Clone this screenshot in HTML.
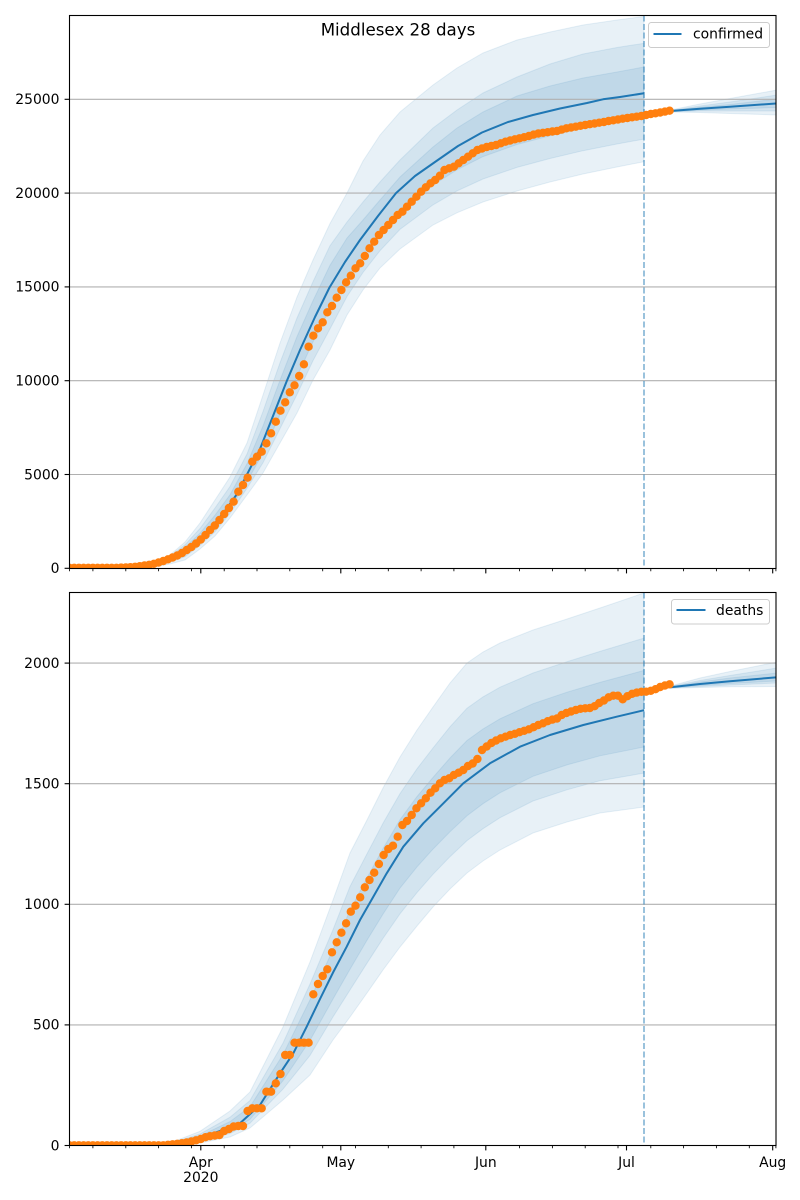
<!DOCTYPE html>
<html>
<head>
<meta charset="utf-8">
<style>
html,body{margin:0;padding:0;background:#fff;}
svg{display:block;}
text{font-family:"DejaVu Sans","Liberation Sans",sans-serif;fill:#000;}
</style>
</head>
<body>
<svg width="800" height="1200" viewBox="0 0 800 1200" xmlns="http://www.w3.org/2000/svg">
<defs>
<clipPath id="c1"><rect x="69.5" y="15.5" width="706.5" height="553"/></clipPath>
<clipPath id="c2"><rect x="69.5" y="592.5" width="706.5" height="553"/></clipPath>
</defs>
<rect width="800" height="1200" fill="#fff"/>

<!-- ================= TOP AXES ================= -->
<g clip-path="url(#c1)">
  <g fill="#1f77b4" fill-opacity="0.1" stroke="#1f77b4" stroke-opacity="0.1" stroke-width="1">
    <polygon points="69.5,568.2 150,564 170,555 185,542 200,523 215,500 230,477 247,443 263,395 280,343 297,297 313,260 330,223.5 347,193 363,161 380,135 400,112 433,85 457,68 483,53 517,40 550,32 583,25 617,20 644,16.5 644,161.7 617,167 583,174 550,182 517,191 483,202 457,212.8 433,225 400,249 380,268 363,290 347,315 330,350 313,380 297,413 280,443 263,473 247,495 230,518 215,536 200,549 185,560 170,564 150,568 69.5,568.3"/>
    <polygon points="69.5,568.2 150,564.5 170,556.2 185,544.8 200,528.5 215,508 230,486.5 247,454 263,411.5 280,362.8 297,318 313,281.7 330,245.7 347,222 363,202 380,182 400,160 433,128 457,110 483,93 517,77 550,64 583,54 617,47.5 644,43.3 644,139.1 617,144 583,150.7 550,158.5 517,167.4 483,179 457,190.9 433,204.9 400,229.4 380,250.7 363,272.5 347,296.5 330,328.9 313,360.7 297,394.5 280,428.7 263,462.8 247,488.2 230,513.4 215,531.7 200,545.5 185,556.7 170,562.2 150,567.2 69.5,568.2"/>
    <polygon points="69.5,568.2 150,565 170,557.3 185,547.3 200,533.2 215,515.2 230,494.8 247,463.8 263,426 280,380.2 297,336.6 313,300.7 330,265.3 347,238 363,220 380,200 400,177 433,147 457,128 483,112 517,96 550,86 583,78 617,72 644,67 644,117.2 617,121.8 583,128.3 550,135.8 517,144.5 483,156.6 457,169.8 433,185.1 400,210.3 380,233.8 363,255.2 347,278.6 330,308.8 313,341.9 297,376.6 280,414.6 263,452.9 247,481.7 230,508.9 215,527.6 200,542 185,553.5 170,560.4 150,566.4 69.5,568.2"/>
    <polygon points="670.5,110 700,104 730,98.5 777,90 777,115 730,113.5 700,112.5 670.5,112"/>
    <polygon points="670.5,110.5 700,106 730,102 777,95 777,111 730,111 700,111 670.5,111.7"/>
    <polygon points="670.5,110.8 700,107.3 730,104.5 777,99 777,107.5 730,109 700,110 670.5,111.3"/>
  </g>
  <!-- grid -->
  <g stroke="#b0b0b0" stroke-width="1.1">
    <line x1="69.5" x2="776" y1="474.5" y2="474.5"/>
    <line x1="69.5" x2="776" y1="380.7" y2="380.7"/>
    <line x1="69.5" x2="776" y1="286.9" y2="286.9"/>
    <line x1="69.5" x2="776" y1="193.1" y2="193.1"/>
    <line x1="69.5" x2="776" y1="99.3" y2="99.3"/>
  </g>
  <!-- median lines -->
  <polyline fill="none" stroke="#1f77b4" stroke-width="2" stroke-linejoin="round" points="69.5,568.2 130,567.6 150,565.5 165,561 180,553.5 195,543 210,529 225,511 237,494 247,474.5 260,449 273,416 286.5,381.7 300,350 315,317 329.5,287.5 345,262 360,240 378,216 396,193.1 415,176 435,162 458,146 482,132.5 508,122 533,115 560,108.5 587,103 603,99.3 620,97 644,93.3"/>
  <polyline fill="none" stroke="#1f77b4" stroke-width="2" points="670.5,111 700,108.8 730,106.8 777,103.4"/>
  <!-- dashed vline -->
  <line x1="644" x2="644" y1="15.5" y2="568.5" stroke="#1f77b4" stroke-opacity="0.5" stroke-width="1.8" stroke-dasharray="6,2.5"/>
  <!-- data dots -->
  <path fill="none" stroke="#ff7f0e" stroke-width="8.4" stroke-linecap="round" d="M69.5 567.8h0.01M74.2 567.8h0.01M78.9 567.8h0.01M83.6 567.8h0.01M88.3 567.8h0.01M92.9 567.8h0.01M97.6 567.8h0.01M102.3 567.8h0.01M107 567.8h0.01M111.7 567.8h0.01M116.4 567.8h0.01M121.1 567.6h0.01M125.8 567.4h0.01M130.4 567.2h0.01M135.1 566.8h0.01M139.8 566.2h0.01M144.5 565.5h0.01M149.2 564.8h0.01M153.9 563.8h0.01M158.6 562.5h0.01M163.3 561h0.01M168 559.3h0.01M172.6 557.5h0.01M177.3 555.5h0.01M182 553h0.01M186.7 550h0.01M191.4 547h0.01M196.1 543.5h0.01M200.8 539.5h0.01M205.5 535h0.01M210.1 530h0.01M214.8 525.5h0.01M219.5 520h0.01M224.2 514h0.01M228.9 508h0.01M233.6 501.7h0.01M238.3 491.7h0.01M243 485h0.01M247.6 477.7h0.01M252.3 461.7h0.01M257 456.7h0.01M261.7 451.7h0.01M266.4 443.3h0.01M271.1 433.3h0.01M275.8 421.7h0.01M280.5 410.7h0.01M285.2 402.3h0.01M289.8 392.3h0.01M294.5 385.3h0.01M299.2 376h0.01M303.9 364.3h0.01M308.6 346.7h0.01M313.3 335.7h0.01M318 328.3h0.01M322.7 322.3h0.01M327.3 312.3h0.01M332 306h0.01M336.7 297.7h0.01M341.4 290h0.01M346.1 282.3h0.01M350.8 275.7h0.01M355.5 268.3h0.01M360.2 263.3h0.01M364.8 256h0.01M369.5 248.3h0.01M374.2 241.7h0.01M378.9 235h0.01M383.6 230h0.01M388.3 225h0.01M393 220h0.01M397.7 215h0.01M402.4 211.7h0.01M407 206.7h0.01M411.7 201.7h0.01M416.4 196.7h0.01M421.1 191.7h0.01M425.8 187.3h0.01M430.5 183.3h0.01M435.2 180h0.01M439.9 175.7h0.01M444.5 170h0.01M449.2 168.3h0.01M453.9 166.7h0.01M458.6 163.3h0.01M463.3 160h0.01M468 156.7h0.01M472.7 153.3h0.01M477.4 150h0.01M482 148.5h0.01M486.7 147h0.01M491.4 146h0.01M496.1 145h0.01M500.8 143.3h0.01M505.5 141.7h0.01M510.2 140.5h0.01M514.9 139.3h0.01M519.5 138.3h0.01M524.2 137.2h0.01M528.9 136h0.01M533.6 134.6h0.01M538.3 133.5h0.01M543 132.8h0.01M547.7 132.2h0.01M552.4 131.5h0.01M557 131h0.01M561.7 129.6h0.01M566.4 128.3h0.01M571.1 127.5h0.01M575.8 126.7h0.01M580.5 125.8h0.01M585.2 125h0.01M589.9 124.2h0.01M594.6 123.5h0.01M599.2 122.7h0.01M603.9 122h0.01M608.6 121h0.01M613.3 120.3h0.01M618 119.5h0.01M622.7 118.7h0.01M627.4 118h0.01M632.1 117.3h0.01M636.7 116.7h0.01M641.4 116h0.01M646.1 115h0.01M650.8 114h0.01M655.5 113.3h0.01M660.2 112.5h0.01M664.9 111.6h0.01M669.6 110.7h0.01"/>
</g>
<!-- spines top -->
<rect x="69.5" y="15.5" width="706.5" height="553" fill="none" stroke="#000" stroke-width="1.1"/>
<!-- y ticks top -->
<g stroke="#000" stroke-width="1.1">
  <line x1="64.6" x2="69.5" y1="568.3" y2="568.3"/>
  <line x1="64.6" x2="69.5" y1="474.5" y2="474.5"/>
  <line x1="64.6" x2="69.5" y1="380.7" y2="380.7"/>
  <line x1="64.6" x2="69.5" y1="286.9" y2="286.9"/>
  <line x1="64.6" x2="69.5" y1="193.1" y2="193.1"/>
  <line x1="64.6" x2="69.5" y1="99.3" y2="99.3"/>
</g>
<g font-size="13.9" text-anchor="end">
  <text x="59.5" y="573.1">0</text>
  <text x="59.5" y="479.3">5000</text>
  <text x="59.5" y="385.5">10000</text>
  <text x="59.5" y="291.7">15000</text>
  <text x="59.5" y="197.9">20000</text>
  <text x="59.5" y="104.1">25000</text>
</g>
<!-- x ticks top -->
<g stroke="#000" stroke-width="1.1">
  <line x1="200.8" x2="200.8" y1="568.5" y2="573.4"/>
  <line x1="340.8" x2="340.8" y1="568.5" y2="573.4"/>
  <line x1="485.8" x2="485.8" y1="568.5" y2="573.4"/>
  <line x1="626.5" x2="626.5" y1="568.5" y2="573.4"/>
  <line x1="772.7" x2="772.7" y1="568.5" y2="573.4"/>
</g>
<g stroke="#000" stroke-width="0.85">
  <path d="M69.5 568.5v2.8M92.9 568.5v2.8M125.8 568.5v2.8M158.6 568.5v2.8M191.4 568.5v2.8M224.2 568.5v2.8M257 568.5v2.8M289.8 568.5v2.8M322.7 568.5v2.8M355.5 568.5v2.8M388.3 568.5v2.8M421.1 568.5v2.8M453.9 568.5v2.8M519.5 568.5v2.8M552.4 568.5v2.8M585.2 568.5v2.8M618 568.5v2.8M650.8 568.5v2.8M683.6 568.5v2.8M716.4 568.5v2.8M749.3 568.5v2.8M775.9 568.5v2.8"/>
</g>
<!-- legend top -->
<rect x="648.5" y="22.5" width="121" height="25" rx="2.8" ry="2.8" fill="#fff" fill-opacity="0.8" stroke="#cccccc" stroke-width="1"/>
<line x1="653.5" x2="681.5" y1="34" y2="34" stroke="#1f77b4" stroke-width="2"/>
<text x="693" y="38.5" font-size="13.9">confirmed</text>
<!-- title -->
<text x="398" y="35.7" font-size="16.67" text-anchor="middle">Middlesex 28 days</text>

<!-- ================= BOTTOM AXES ================= -->
<g clip-path="url(#c2)">
  <g fill="#1f77b4" fill-opacity="0.1" stroke="#1f77b4" stroke-opacity="0.1" stroke-width="1">
    <polygon points="69.5,1145.5 170,1143 200,1131.3 230,1111 250,1092 283,1027 310,962 333,900 350,853 367,820 383,788 400,757 417,730 433,707 450,683 467,663 483,652 500,643 533,630 567,619 600,608 644,593 644,807 600,813 567,822 533,833 500,850 483,861 467,873 450,889 433,907 417,926 400,947 383,970 367,993 350,1017 333,1040 310,1075 283,1100 250,1128 230,1137 200,1143 170,1145.5 69.5,1145.5"/>
    <polygon points="69.5,1145.5 170,1143.6 200,1134 230,1117.2 250,1100.5 283,1043.1 310,984 333,929.7 350,886.5 367,853.8 383,823.3 400,793.6 417,768.8 433,748 450,726.8 467,708.2 483,696.9 500,687.2 533,673 567,661.7 600,651.4 644,638.1 644,773.1 600,780.7 567,789.8 533,801 500,817.7 483,828.7 467,840.6 450,856.7 433,874.3 417,892.6 400,913.8 383,938.4 367,963.2 350,990 333,1016.9 310,1055.5 283,1089.1 250,1123.2 230,1133.5 200,1141.4 170,1145.2 69.5,1145.5"/>
    <polygon points="69.5,1145.5 170,1144 200,1135.9 230,1121.6 250,1106.7 283,1054.6 310,999.8 333,949.5 350,910.4 367,877.9 383,848.6 400,819.7 417,796.5 433,777.4 450,758 467,740.5 483,729 500,718.8 533,703.7 567,692.2 600,682.4 644,670.4 644,747 600,755.8 567,764.9 533,776.3 500,792.8 483,803.7 467,815.7 450,831.8 433,849.1 417,866.9 400,888.1 383,914.1 367,940.2 350,969.3 333,999 310,1040.4 283,1080.7 250,1119.4 230,1130.8 200,1140.1 170,1144.9 69.5,1145.5"/>
    <polygon points="670.5,686 700,678 730,671.5 777,662 777,686.5 730,686.8 700,687.5 670.5,688.3"/>
    <polygon points="670.5,686.5 700,680.5 730,675.5 777,668 777,683 730,685 700,686.5 670.5,688"/>
    <polygon points="670.5,687 700,682 730,678 777,673 777,681 730,683.5 700,685.5 670.5,687.6"/>
  </g>
  <g stroke="#b0b0b0" stroke-width="1.1">
    <line x1="69.5" x2="776" y1="1024.9" y2="1024.9"/>
    <line x1="69.5" x2="776" y1="904.3" y2="904.3"/>
    <line x1="69.5" x2="776" y1="783.7" y2="783.7"/>
    <line x1="69.5" x2="776" y1="663.1" y2="663.1"/>
  </g>
  <polyline fill="none" stroke="#1f77b4" stroke-width="2" stroke-linejoin="round" points="69.5,1145.4 170,1144.5 185,1142.5 200,1138.3 220,1131 240,1123.3 260,1105 280,1073.3 293.3,1053.3 306.7,1026.7 320,999 333.3,972 346.7,946.7 360,920 373.3,896.7 386.7,873.3 403.3,846.7 423.3,823.3 440,806.7 463.3,783.3 490,763.3 520,746.7 550,735 583.3,725 616.7,716.7 644,710.2"/>
  <polyline fill="none" stroke="#1f77b4" stroke-width="2" points="670.5,687.3 700,684 730,681.2 777,677.3"/>
  <line x1="644" x2="644" y1="592.5" y2="1145.5" stroke="#1f77b4" stroke-opacity="0.5" stroke-width="1.8" stroke-dasharray="6,2.5"/>
  <path fill="none" stroke="#ff7f0e" stroke-width="8.4" stroke-linecap="round" d="M69.5 1145.3h0.01M74.2 1145.3h0.01M78.9 1145.3h0.01M83.6 1145.3h0.01M88.3 1145.3h0.01M92.9 1145.3h0.01M97.6 1145.3h0.01M102.3 1145.3h0.01M107 1145.3h0.01M111.7 1145.3h0.01M116.4 1145.3h0.01M121.1 1145.3h0.01M125.8 1145.3h0.01M130.4 1145.3h0.01M135.1 1145.3h0.01M139.8 1145.3h0.01M144.5 1145.3h0.01M149.2 1145.3h0.01M153.9 1145.3h0.01M158.6 1145.3h0.01M163.3 1145.3h0.01M168 1144.8h0.01M172.6 1144.3h0.01M177.3 1143.8h0.01M182 1143.2h0.01M186.7 1142.4h0.01M191.4 1141.5h0.01M196.1 1140.3h0.01M200.8 1139h0.01M205.5 1137.2h0.01M210.1 1136.2h0.01M214.8 1135.5h0.01M219.5 1135h0.01M224.2 1131h0.01M228.9 1129h0.01M233.6 1126.5h0.01M238.3 1126h0.01M243 1126h0.01M247.6 1111h0.01M252.3 1108.3h0.01M257 1108.3h0.01M261.7 1108.3h0.01M266.4 1091.7h0.01M271.1 1091.7h0.01M275.8 1083.3h0.01M280.5 1074h0.01M285.2 1055h0.01M289.8 1055h0.01M294.5 1042.7h0.01M299.2 1042.7h0.01M303.9 1042.7h0.01M308.6 1042.7h0.01M313.3 994.3h0.01M318 984h0.01M322.7 976h0.01M327.3 969.3h0.01M332 952.3h0.01M336.7 942.3h0.01M341.4 932.7h0.01M346.1 923.3h0.01M350.8 911.7h0.01M355.5 905.7h0.01M360.2 897.3h0.01M364.8 887.3h0.01M369.5 880h0.01M374.2 872.7h0.01M378.9 864h0.01M383.6 855h0.01M388.3 849h0.01M393 845.7h0.01M397.7 836.7h0.01M402.4 825h0.01M407 821h0.01M411.7 815h0.01M416.4 808.3h0.01M421.1 803.3h0.01M425.8 798.3h0.01M430.5 792.7h0.01M435.2 788.3h0.01M439.9 783.3h0.01M444.5 780h0.01M449.2 778.3h0.01M453.9 775h0.01M458.6 772.7h0.01M463.3 770h0.01M468 766h0.01M472.7 763.5h0.01M477.4 759h0.01M482 750h0.01M486.7 746.5h0.01M491.4 743h0.01M496.1 740.5h0.01M500.8 738.3h0.01M505.5 736.7h0.01M510.2 735h0.01M514.9 733.8h0.01M519.5 732.2h0.01M524.2 730.8h0.01M528.9 729.3h0.01M533.6 727.2h0.01M538.3 725h0.01M543 723.3h0.01M547.7 721.2h0.01M552.4 719.6h0.01M557 718.5h0.01M561.7 715h0.01M566.4 713h0.01M571.1 711.5h0.01M575.8 710h0.01M580.5 708.8h0.01M585.2 708.3h0.01M589.9 708h0.01M594.6 706.2h0.01M599.2 703h0.01M603.9 700.5h0.01M608.6 697.3h0.01M613.3 695.7h0.01M618 695.7h0.01M622.7 699.3h0.01M627.4 696.2h0.01M632.1 693.8h0.01M636.7 692.6h0.01M641.4 691.8h0.01M646.1 691.7h0.01M650.8 690.8h0.01M655.5 689.2h0.01M660.2 687h0.01M664.9 685.5h0.01M669.6 684.3h0.01"/>
</g>
<rect x="69.5" y="592.5" width="706.5" height="553" fill="none" stroke="#000" stroke-width="1.1"/>
<g stroke="#000" stroke-width="1.1">
  <line x1="64.6" x2="69.5" y1="1145.5" y2="1145.5"/>
  <line x1="64.6" x2="69.5" y1="1024.9" y2="1024.9"/>
  <line x1="64.6" x2="69.5" y1="904.3" y2="904.3"/>
  <line x1="64.6" x2="69.5" y1="783.7" y2="783.7"/>
  <line x1="64.6" x2="69.5" y1="663.1" y2="663.1"/>
</g>
<g font-size="13.9" text-anchor="end">
  <text x="59.5" y="1150.3">0</text>
  <text x="59.5" y="1029.7">500</text>
  <text x="59.5" y="909.1">1000</text>
  <text x="59.5" y="788.5">1500</text>
  <text x="59.5" y="667.9">2000</text>
</g>
<g stroke="#000" stroke-width="1.1">
  <line x1="200.8" x2="200.8" y1="1145.5" y2="1150.4"/>
  <line x1="340.8" x2="340.8" y1="1145.5" y2="1150.4"/>
  <line x1="485.8" x2="485.8" y1="1145.5" y2="1150.4"/>
  <line x1="626.5" x2="626.5" y1="1145.5" y2="1150.4"/>
  <line x1="772.7" x2="772.7" y1="1145.5" y2="1150.4"/>
</g>
<g stroke="#000" stroke-width="0.85">
  <path d="M69.5 1145.5v2.8M92.9 1145.5v2.8M125.8 1145.5v2.8M158.6 1145.5v2.8M191.4 1145.5v2.8M224.2 1145.5v2.8M257 1145.5v2.8M289.8 1145.5v2.8M322.7 1145.5v2.8M355.5 1145.5v2.8M388.3 1145.5v2.8M421.1 1145.5v2.8M453.9 1145.5v2.8M519.5 1145.5v2.8M552.4 1145.5v2.8M585.2 1145.5v2.8M618 1145.5v2.8M650.8 1145.5v2.8M683.6 1145.5v2.8M716.4 1145.5v2.8M749.3 1145.5v2.8M775.9 1145.5v2.8"/>
</g>
<g font-size="13.9" text-anchor="middle">
  <text x="200.8" y="1166.8">Apr</text>
  <text x="200.8" y="1181.8">2020</text>
  <text x="340.8" y="1166.8">May</text>
  <text x="485.8" y="1166.8">Jun</text>
  <text x="626.5" y="1166.8">Jul</text>
  <text x="772.7" y="1166.8">Aug</text>
</g>
<!-- legend bottom -->
<rect x="671.5" y="599.5" width="98" height="24.5" rx="2.8" ry="2.8" fill="#fff" fill-opacity="0.8" stroke="#cccccc" stroke-width="1"/>
<line x1="676.5" x2="705.5" y1="610" y2="610" stroke="#1f77b4" stroke-width="2"/>
<text x="716" y="615" font-size="13.9">deaths</text>
</svg>
</body>
</html>
